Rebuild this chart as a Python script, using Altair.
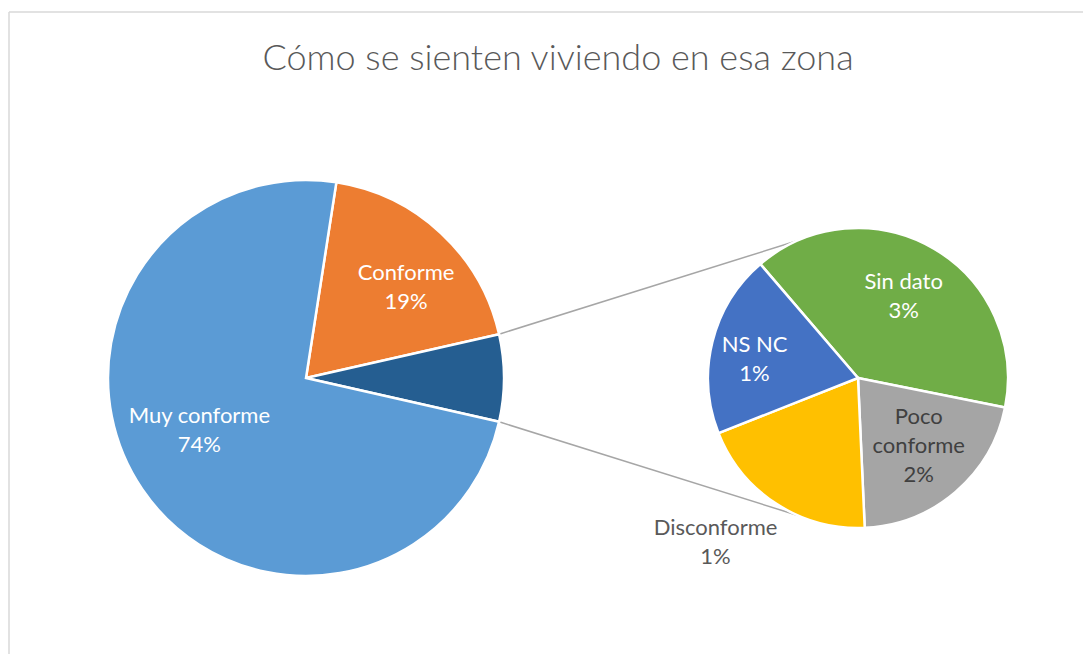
import math
import altair as alt
import pandas as pd

# ---------------- data ----------------
TITLE = "Cómo se sienten viviendo en esa zona"

MAIN_CATS = ["Conforme", "Muy conforme"]
MAIN_VALUES = [19.0, 73.9]

SEC_CATS = ["Sin dato", "Poco conforme", "Disconforme", "NS NC"]
SEC_VALUES = [2.8, 1.5, 1.4, 1.4]

OTHER_NAME = "Otros"

# ---------------- styles / layout ----------------
MAIN_COLORS = {"Conforme": "#ED7D31", OTHER_NAME: "#255E91", "Muy conforme": "#5B9BD5"}
SEC_COLORS = {"Sin dato": "#70AD47", "Poco conforme": "#A5A5A5",
              "Disconforme": "#FFC000", "NS NC": "#4472C4"}
LABEL_WRAP = {"Poco conforme": "Poco\nconforme"}
LABEL_COLOR = {"Poco conforme": "#404040", "Disconforme": "#595959"}
# (radius fraction, angle nudge in degrees) for each label
LABEL_POS = {"Conforme": (0.68, 5), "Muy conforme": (0.60, 8),
             "Sin dato": (0.62, -1), "NS NC": (0.70, -4),
             "Poco conforme": (0.61, -1), "Disconforme": (1.45, 8)}

W, H = 1075, 646
FONT = "Lato"
LABEL_SIZE = 22
LINE_H = 29
C1 = (297, 370); R1 = 198
C2 = (849, 370); R2 = 150
SEC_START_DEG = -40.6
SEC_CONNECT_DEG = 66.4

# ---------------- derived ----------------
other_total = sum(SEC_VALUES)
main_cats = [MAIN_CATS[0], OTHER_NAME, MAIN_CATS[1]]
main_vals = [MAIN_VALUES[0], other_total, MAIN_VALUES[1]]
total = sum(main_vals)

main_df = pd.DataFrame({"cat": main_cats, "value": main_vals, "ord": range(len(main_cats))})
sec_df = pd.DataFrame({"cat": SEC_CATS, "value": SEC_VALUES, "ord": range(len(SEC_CATS))})

a0 = math.radians(90) - (other_total / 2 + main_vals[0]) / total * 2 * math.pi
b0 = math.radians(SEC_START_DEG)


def pt(c, r, ang):
    return c[0] + r * math.sin(ang), c[1] - r * math.cos(ang)


def make_label(cat, v, c, r, mid):
    fr, da = LABEL_POS[cat]
    x, y = pt(c, r * fr, mid + math.radians(da))
    txt = f"{LABEL_WRAP.get(cat, cat)}\n{round(v / total * 100)}%"
    n = txt.count("\n") + 1
    # vega anchors the first line; shift so the block is centred
    y -= (n - 1) * LINE_H / 2
    return {"x": x, "y": y, "text": txt, "tc": LABEL_COLOR.get(cat, "white")}


labels = []
acc = a0
for cat, v in zip(main_cats, main_vals):
    span = v / total * 2 * math.pi
    if cat != OTHER_NAME:
        labels.append(make_label(cat, v, C1, R1, acc + span / 2))
    acc += span
acc = b0
for cat, v in zip(SEC_CATS, SEC_VALUES):
    span = v / other_total * 2 * math.pi
    labels.append(make_label(cat, v, C2, R2, acc + span / 2))
    acc += span
label_df = pd.DataFrame(labels)

# connector lines
o_start = a0 + main_vals[0] / total * 2 * math.pi
o_end = o_start + other_total / total * 2 * math.pi
p1 = pt(C1, R1, o_start)
p2 = pt(C1, R1, o_end)
q1 = pt(C2, R2, math.radians(270 + SEC_CONNECT_DEG))
q2 = pt(C2, R2, math.radians(270 - SEC_CONNECT_DEG))
conn_df = pd.DataFrame({"x": [p1[0], p2[0]], "y": [p1[1], p2[1]],
                        "x2": [q1[0], q2[0]], "y2": [q1[1], q2[1]]})

# ---------------- chart ----------------
main_arc = alt.Chart(main_df).mark_arc(radius=R1, stroke="white", strokeWidth=2.5).encode(
    theta=alt.Theta("value:Q", stack=True,
                    scale=alt.Scale(domain=[0, total], range=[a0, a0 + 2 * math.pi])),
    order=alt.Order("ord:Q"),
    color=alt.Color("cat:N", legend=None,
                    scale=alt.Scale(domain=main_cats, range=[MAIN_COLORS[c] for c in main_cats])),
    x=alt.value(C1[0]), y=alt.value(C1[1]),
)

sec_arc = alt.Chart(sec_df).mark_arc(radius=R2, stroke="white", strokeWidth=2.5).encode(
    theta=alt.Theta("value:Q", stack=True,
                    scale=alt.Scale(domain=[0, other_total], range=[b0, b0 + 2 * math.pi])),
    order=alt.Order("ord:Q"),
    color=alt.Color("cat:N", legend=None,
                    scale=alt.Scale(domain=SEC_CATS, range=[SEC_COLORS[c] for c in SEC_CATS])),
    x=alt.value(C2[0]), y=alt.value(C2[1]),
)

connectors = alt.Chart(conn_df).mark_rule(color="#A6A6A6", strokeWidth=1.5).encode(
    x=alt.X("x:Q", scale=None, axis=None), y=alt.Y("y:Q", scale=None, axis=None),
    x2="x2:Q", y2="y2:Q",
)

border = alt.Chart(pd.DataFrame({"x": [0, 0], "y": [4, 4], "x2": [0, W + 20], "y2": [H + 20, 4]})).mark_rule(
    color="#D9D9D9", strokeWidth=1.5).encode(
    x=alt.X("x:Q", scale=None, axis=None), y=alt.Y("y:Q", scale=None, axis=None),
    x2="x2:Q", y2="y2:Q",
)

text = alt.Chart(label_df).mark_text(font=FONT, fontSize=LABEL_SIZE, lineBreak="\n", lineHeight=LINE_H,
                                     align="center", baseline="middle").encode(
    x=alt.X("x:Q", scale=None, axis=None), y=alt.Y("y:Q", scale=None, axis=None),
    text="text:N",
    color=alt.Color("tc:N", scale=None, legend=None),
)

title = alt.Chart(pd.DataFrame({"t": [TITLE]})).mark_text(
    font=FONT, fontSize=36, fontWeight=300, color="#595959", align="center", baseline="middle").encode(
    x=alt.value(549), y=alt.value(51), text="t:N")

chart = alt.layer(border, connectors, main_arc, sec_arc, text, title).resolve_scale(
    theta="independent", color="independent"
).properties(
    width=W, height=H, padding=0,
    autosize=alt.AutoSizeParams(type="fit", contains="padding"),
).configure_view(stroke=None)

chart.save("out.html", embed_options={"renderer": "svg", "actions": False})
